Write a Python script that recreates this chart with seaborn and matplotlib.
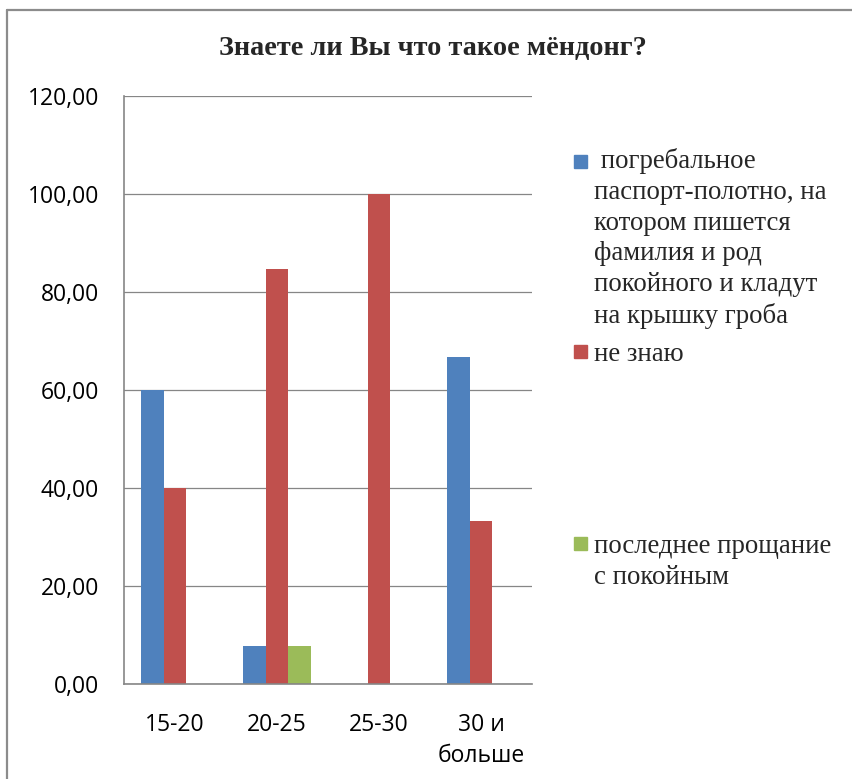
import matplotlib
matplotlib.use("Agg")
import matplotlib.pyplot as plt
import pandas as pd
import seaborn as sns
from matplotlib.patches import Rectangle
from matplotlib.lines import Line2D

# data
categories = ["15-20", "20-25", "25-30", "30 и\nбольше"]
series = [
    " погребальное\nпаспорт-полотно, на\nкотором пишется\nфамилия и род\nпокойного и кладут\nна крышку гроба",
    "не знаю",
    "последнее прощание\nс покойным",
]
passport = [60.00, 7.69, 0.00, 66.67]
dont_know = [40.00, 84.62, 100.00, 33.33]
farewell = [0.00, 7.69, 0.00, 0.00]
colors = ["#4F81BD", "#C0504D", "#9BBB59"]
yticks = [0, 20, 40, 60, 80, 100, 120]
title = "Знаете ли Вы что такое мёндонг?"

rows = []
for name, vals in zip(series, [passport, dont_know, farewell]):
    for c, v in zip(categories, vals):
        rows.append({"age": c, "value": v, "answer": name})
df = pd.DataFrame(rows)

sns.set_style("white")
plt.rcParams["font.family"] = ["Open Sans", "DejaVu Sans"]

W, H = 852, 779
fig = plt.figure(figsize=(W / 100, H / 100), dpi=100)
ax = fig.add_axes([124 / W, 1 - 684 / H, (532 - 124) / W, (684 - 96) / H])

sns.barplot(data=df, x="age", y="value", hue="answer", order=categories,
            hue_order=series, palette=colors, saturation=1, width=0.66,
            errorbar=None, legend=False, linewidth=0, ax=ax)

grid = "#868686"
ax.set_ylim(0, 120)
ax.set_yticks(yticks)
ax.set_yticklabels([f"{t:.2f}".replace(".", ",") for t in yticks])
ax.yaxis.grid(True, color=grid, linewidth=0.9)
ax.set_axisbelow(True)
ax.set_xlabel("")
ax.set_ylabel("")
for s in ["top", "right"]:
    ax.spines[s].set_visible(False)
for s in ["left", "bottom"]:
    ax.spines[s].set_color(grid)
    ax.spines[s].set_linewidth(1.2)
ax.tick_params(axis="y", length=0, pad=18, labelsize=16.5, colors="black")
ax.tick_params(axis="x", length=0, pad=21, labelsize=16.5, colors="black")
for lab in ax.get_xticklabels():
    lab.set_linespacing(1.38)

# title
fig.text(433 / W, 1 - 49 / H, title, ha="center", va="center",
         fontsize=20.3, fontweight="bold", family="Liberation Serif")

# legend drawn by hand, Excel style (first-line baselines, px from top)
baselines = [170.7, 360.7, 553]
step = 30.5
for name, col, yb in zip(series, colors, baselines):
    n = name.count("\n")
    fig.patches.append(Rectangle((574 / W, 1 - (yb - 3) / H), 13 / W, 13 / H,
                                 transform=fig.transFigure, color=col))
    fig.text(594 / W, 1 - (yb + n * step) / H, name, ha="left", va="baseline",
             fontsize=19.3, family="Liberation Serif", linespacing=1.30)

# outer chart border
fig.add_artist(Line2D([7 / W, 7 / W], [0, 1 - 10 / H], color="#8c8c8c", lw=1.6))
fig.add_artist(Line2D([7 / W, 1], [1 - 10 / H, 1 - 10 / H], color="#8c8c8c", lw=1.6))

fig.savefig("out.png", dpi=100)
